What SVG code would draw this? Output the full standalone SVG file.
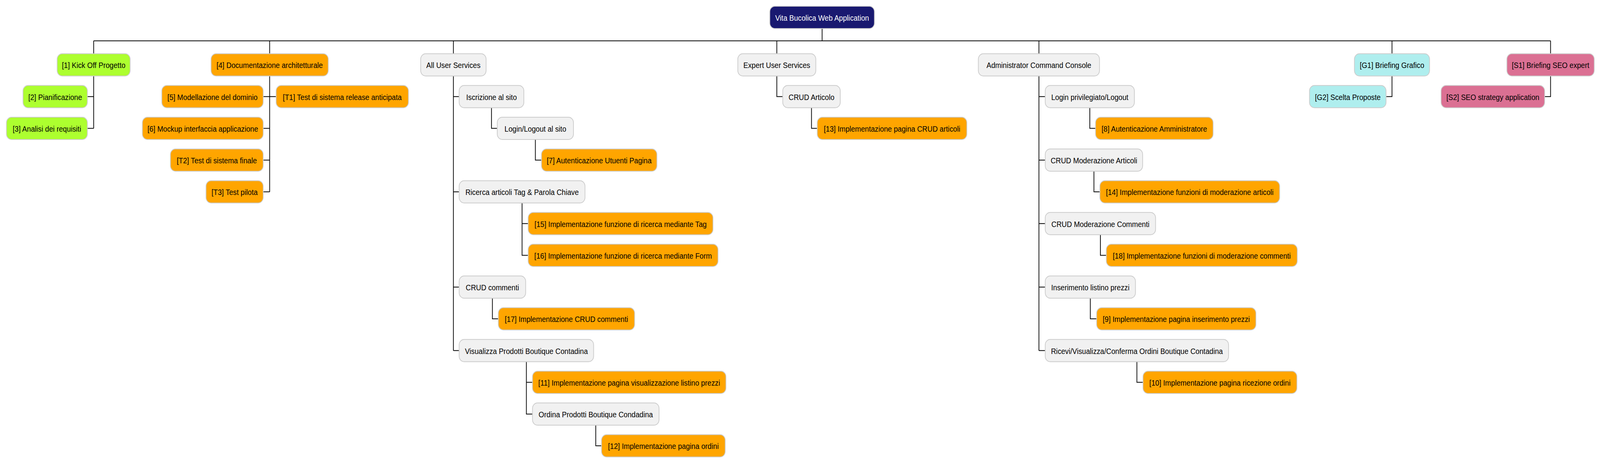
<svg xmlns="http://www.w3.org/2000/svg" width="4450" height="1185" viewBox="0 0 4450 1185" preserveAspectRatio="none">
<style>
svg{width:100vw;height:100vh;display:block}
.bg{fill:#FFFFFF}
.c{fill:none;stroke:#000000;stroke-width:2}
.n rect{stroke:#CCCCCC;stroke-width:2}
.n text{font-family:"Liberation Sans",Arial,sans-serif;font-size:19.8px;fill:#000000;text-anchor:middle}
.root rect{fill:#191970}
.root text{fill:#FFFFFF}
.green rect{fill:#ADFF2F}
.orange rect{fill:#FFA500}
.grey rect{fill:#F1F1F1}
.cyan rect{fill:#AFEEEE}
.pink rect{fill:#DB7093}
</style>
<rect class="bg" x="0" y="0" width="4450" height="1185"/>
<g id="connectors">
<path class="c" d="M2286.5,72.5 V104.5 M260.5,104.5 H4312.5 M260.5,104.5 V137.5 M750,104.5 V137.5 M1261,104.5 V137.5 M2160.5,104.5 V137.5 M2889.5,104.5 V137.5 M3871.5,104.5 V137.5 M4312.5,104.5 V137.5"/>
<path class="c" d="M260.5,194.5 V328.5 M243,247.25 H260.5 M243,328.5 H260.5"/>
<path class="c" d="M750,194.5 V491 M732,247.25 H768 M732,328.5 H750 M732,409.75 H750 M732,491 H750"/>
<path class="c" d="M1261,194.5 V897.25 M1261,247.25 H1277 M1261,491 H1277 M1261,734.75 H1277 M1261,897.25 H1277"/>
<path class="c" d="M1367,275.75 V328.5 H1383"/>
<path class="c" d="M1489,357 V409.75 H1506"/>
<path class="c" d="M1452,519.5 V653.5 H1469 M1452,572.25 H1469"/>
<path class="c" d="M1369.5,763.25 V816 H1386"/>
<path class="c" d="M1464,925.75 V1059.75 H1481 M1464,978.5 H1481"/>
<path class="c" d="M1657,1088.25 V1141 H1673"/>
<path class="c" d="M2160.5,194.5 V247.25 H2177"/>
<path class="c" d="M2257,275.75 V328.5 H2273"/>
<path class="c" d="M2889.5,194.5 V897.25 M2889.5,247.25 H2907 M2889.5,409.75 H2907 M2889.5,572.25 H2907 M2889.5,734.75 H2907 M2889.5,897.25 H2907"/>
<path class="c" d="M3031,275.75 V328.5 H3047"/>
<path class="c" d="M3042.5,438.25 V491 H3059"/>
<path class="c" d="M3060.5,600.75 V653.5 H3077"/>
<path class="c" d="M3032.5,763.25 V816 H3050"/>
<path class="c" d="M3162,925.75 V978.5 H3179"/>
<path class="c" d="M3871.5,194.5 V247.25 H3855"/>
<path class="c" d="M4312.5,194.5 V247.25 H4296"/>
</g>
<g id="root" class="n root"><rect x="2141" y="16" width="291" height="57" rx="14"/><text x="2286.5" y="53">Vita Bucolica Web Application</text></g>
<g id="n1" class="n green"><rect x="159" y="137.5" width="203" height="57" rx="14"/><text x="260.5" y="174.5">[1] Kick Off Progetto</text></g>
<g id="n2" class="n green"><rect x="64" y="218.75" width="179" height="57" rx="14"/><text x="153.5" y="255.75">[2] Pianificazione</text></g>
<g id="n3" class="n green"><rect x="18" y="300" width="225" height="57" rx="14"/><text x="130.5" y="337">[3] Analisi dei requisiti</text></g>
<g id="n4" class="n orange"><rect x="587" y="137.5" width="326" height="57" rx="14"/><text x="750" y="174.5">[4] Documentazione architetturale</text></g>
<g id="n5" class="n orange"><rect x="450" y="218.75" width="282" height="57" rx="14"/><text x="591" y="255.75">[5] Modellazione del dominio</text></g>
<g id="t1" class="n orange"><rect x="768" y="218.75" width="368" height="57" rx="14"/><text x="952" y="255.75">[T1] Test di sistema release anticipata</text></g>
<g id="n6" class="n orange"><rect x="396" y="300" width="336" height="57" rx="14"/><text x="564" y="337">[6] Mockup interfaccia applicazione</text></g>
<g id="t2" class="n orange"><rect x="474" y="381.25" width="258" height="57" rx="14"/><text x="603" y="418.25">[T2] Test di sistema finale</text></g>
<g id="t3" class="n orange"><rect x="573" y="462.5" width="159" height="57" rx="14"/><text x="652.5" y="499.5">[T3] Test pilota</text></g>
<g id="aus" class="n grey"><rect x="1170" y="137.5" width="182" height="57" rx="14"/><text x="1261" y="174.5">All User Services</text></g>
<g id="iscr" class="n grey"><rect x="1277" y="218.75" width="180" height="57" rx="14"/><text x="1367" y="255.75">Iscrizione al sito</text></g>
<g id="login" class="n grey"><rect x="1383" y="300" width="212" height="57" rx="14"/><text x="1489" y="337">Login/Logout al sito</text></g>
<g id="n7" class="n orange"><rect x="1506" y="381.25" width="321" height="57" rx="14"/><text x="1666.5" y="418.25">[7] Autenticazione Utuenti Pagina</text></g>
<g id="ric" class="n grey"><rect x="1277" y="462.5" width="350" height="57" rx="14"/><text x="1452" y="499.5">Ricerca articoli Tag &amp; Parola Chiave</text></g>
<g id="n15" class="n orange"><rect x="1469" y="543.75" width="514" height="57" rx="14"/><text x="1726" y="580.75">[15] Implementazione funzione di ricerca mediante Tag</text></g>
<g id="n16" class="n orange"><rect x="1469" y="625" width="528" height="57" rx="14"/><text x="1733" y="662">[16] Implementazione funzione di ricerca mediante Form</text></g>
<g id="cc" class="n grey"><rect x="1277" y="706.25" width="185" height="57" rx="14"/><text x="1369.5" y="743.25">CRUD commenti</text></g>
<g id="n17" class="n orange"><rect x="1386" y="787.5" width="379" height="57" rx="14"/><text x="1575.5" y="824.5">[17] Implementazione CRUD commenti</text></g>
<g id="vis" class="n grey"><rect x="1277" y="868.75" width="374" height="57" rx="14"/><text x="1464" y="905.75">Visualizza Prodotti Boutique Contadina</text></g>
<g id="n11" class="n orange"><rect x="1481" y="950" width="538" height="57" rx="14"/><text x="1750" y="987">[11] Implementazione pagina visualizzazione listino prezzi</text></g>
<g id="ord" class="n grey"><rect x="1481" y="1031.25" width="352" height="57" rx="14"/><text x="1657" y="1068.25">Ordina Prodotti Boutique Condadina</text></g>
<g id="n12" class="n orange"><rect x="1673" y="1112.5" width="344" height="57" rx="14"/><text x="1845" y="1149.5">[12] Implementazione pagina ordini</text></g>
<g id="eus" class="n grey"><rect x="2052" y="137.5" width="217" height="57" rx="14"/><text x="2160.5" y="174.5">Expert User Services</text></g>
<g id="ca" class="n grey"><rect x="2177" y="218.75" width="160" height="57" rx="14"/><text x="2257" y="255.75">CRUD Articolo</text></g>
<g id="n13" class="n orange"><rect x="2273" y="300" width="416" height="57" rx="14"/><text x="2481" y="337">[13] Implementazione pagina CRUD articoli</text></g>
<g id="acc" class="n grey"><rect x="2721" y="137.5" width="337" height="57" rx="14"/><text x="2889.5" y="174.5">Administrator Command Console</text></g>
<g id="lp" class="n grey"><rect x="2907" y="218.75" width="248" height="57" rx="14"/><text x="3031" y="255.75">Login privilegiato/Logout</text></g>
<g id="n8" class="n orange"><rect x="3047" y="300" width="327" height="57" rx="14"/><text x="3210.5" y="337">[8] Autenticazione Amministratore</text></g>
<g id="cma" class="n grey"><rect x="2907" y="381.25" width="271" height="57" rx="14"/><text x="3042.5" y="418.25">CRUD Moderazione Articoli</text></g>
<g id="n14" class="n orange"><rect x="3059" y="462.5" width="500" height="57" rx="14"/><text x="3309" y="499.5">[14] Implementazione funzioni di moderazione articoli</text></g>
<g id="cmc" class="n grey"><rect x="2907" y="543.75" width="307" height="57" rx="14"/><text x="3060.5" y="580.75">CRUD Moderazione Commenti</text></g>
<g id="n18" class="n orange"><rect x="3077" y="625" width="531" height="57" rx="14"/><text x="3342.5" y="662">[18] Implementazione funzioni di moderazione commenti</text></g>
<g id="il" class="n grey"><rect x="2907" y="706.25" width="251" height="57" rx="14"/><text x="3032.5" y="743.25">Inserimento listino prezzi</text></g>
<g id="n9" class="n orange"><rect x="3050" y="787.5" width="443" height="57" rx="14"/><text x="3271.5" y="824.5">[9] Implementazione pagina inserimento prezzi</text></g>
<g id="rv" class="n grey"><rect x="2907" y="868.75" width="510" height="57" rx="14"/><text x="3162" y="905.75">Ricevi/Visualizza/Conferma Ordini Boutique Contadina</text></g>
<g id="n10" class="n orange"><rect x="3179" y="950" width="428" height="57" rx="14"/><text x="3393" y="987">[10] Implementazione pagina ricezione ordini</text></g>
<g id="g1" class="n cyan"><rect x="3767" y="137.5" width="209" height="57" rx="14"/><text x="3871.5" y="174.5">[G1] Briefing Grafico</text></g>
<g id="g2" class="n cyan"><rect x="3642" y="218.75" width="213" height="57" rx="14"/><text x="3748.5" y="255.75">[G2] Scelta Proposte</text></g>
<g id="s1" class="n pink"><rect x="4191" y="137.5" width="243" height="57" rx="14"/><text x="4312.5" y="174.5">[S1] Briefing SEO expert</text></g>
<g id="s2" class="n pink"><rect x="4008" y="218.75" width="288" height="57" rx="14"/><text x="4152" y="255.75">[S2] SEO strategy application</text></g>
</svg>
